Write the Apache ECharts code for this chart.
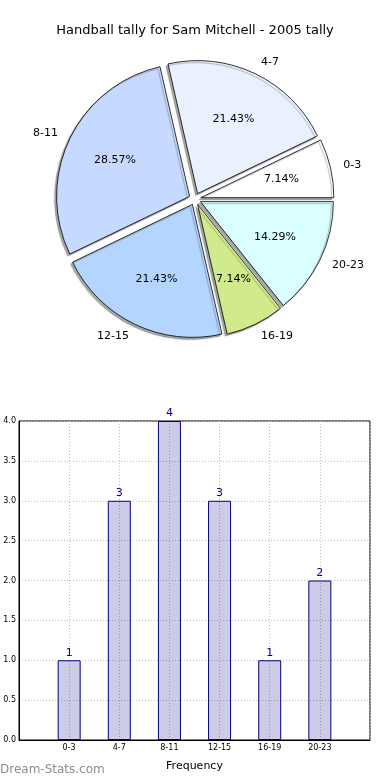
<!DOCTYPE html>
<html>
<head>
<meta charset="utf-8">
<script src="https://cdn.jsdelivr.net/npm/echarts@6/dist/echarts.min.js"></script>
<style>html,body{margin:0;padding:0;background:#fff;}#c{width:390px;height:780px;}</style>
</head>
<body>
<div id="c"></div>
<script>
const titleText = 'Handball tally for Sam Mitchell - 2005 tally';
const categories = ['0-3', '4-7', '8-11', '12-15', '16-19', '20-23'];
const counts = [1, 3, 4, 3, 1, 2];
const sliceColors = ['#ffffff', '#e9f1ff', '#c6d9ff', '#b4d5ff', '#d0ea8c', '#daffff'];
const xAxisName = 'Frequency';
const watermark = 'Dream-Stats.com';

const FONT = 'DejaVu Sans';
const R = 133;
const CENTER = [195, 199];
const EXPLODE = 6;

const pieData = categories.map((c, i) => ({
  name: c, value: counts[i], selected: true,
  itemStyle: { color: sliceColors[i] }
}));
const pctData = categories.map((c, i) => ({ name: c, value: counts[i], selected: true }));

const chart = echarts.init(document.getElementById('c'), null, { renderer: 'canvas' });
chart.setOption({
  animation: false,
  textStyle: { fontFamily: FONT },
  title: {
    text: titleText, left: 'center', top: 19,
    textStyle: { fontFamily: FONT, fontSize: 13, fontWeight: 'normal', color: '#000' }
  },
  graphic: [{
    type: 'text', left: 0, top: 764,
    style: { text: watermark, fontFamily: FONT, fontSize: 12, fill: '#8c8c8c' }
  }],
  grid: {
    left: 19, top: 421, width: 351, height: 319,
    show: true, borderColor: '#000', borderWidth: 1, backgroundColor: 'transparent'
  },
  xAxis: {
    type: 'value', min: -1, max: 6, interval: 1,
    name: xAxisName, nameLocation: 'middle', nameGap: 21,
    nameTextStyle: { fontFamily: FONT, fontSize: 11, color: '#000' },
    axisLine: { show: true, onZero: false, lineStyle: { color: '#000', width: 1 } },
    axisTick: { show: false },
    axisLabel: {
      fontFamily: FONT, fontSize: 8, color: '#000', margin: 4,
      formatter: v => (categories[v] !== undefined ? categories[v] : ''),
      showMinLabel: false, showMaxLabel: false
    },
    splitLine: { show: true, lineStyle: { color: '#bdbdbd', type: [1, 2], width: 1 } }
  },
  yAxis: {
    type: 'value', min: 0, max: 4, interval: 0.5,
    axisLine: { show: true, onZero: false, lineStyle: { color: '#000', width: 1 } },
    axisTick: { show: false },
    axisLabel: { fontFamily: FONT, fontSize: 8, color: '#000', margin: 3, formatter: v => v.toFixed(1) },
    splitLine: { show: true, lineStyle: { color: '#bdbdbd', type: [1, 2], width: 1 } }
  },
  series: [
    {
      type: 'pie',
      center: CENTER, radius: [0, R],
      startAngle: 0, clockwise: false,
      selectedMode: 'multiple', selectedOffset: EXPLODE,
      avoidLabelOverlap: false,
      data: pieData,
      itemStyle: {
        borderColor: '#000', borderWidth: 0.8,
        shadowColor: 'rgba(0,0,0,0.35)', shadowBlur: 1, shadowOffsetX: -2, shadowOffsetY: 2
      },
      label: {
        show: true, position: 'outside', formatter: '{b}',
        fontFamily: FONT, fontSize: 11, color: '#000', distanceToLabelLine: 0
      },
      labelLine: { show: false, length: 13, length2: 0 },
      emphasis: { disabled: true },
      z: 2
    },
    {
      type: 'pie',
      center: CENTER, radius: [0, R * 1.2],
      startAngle: 0, clockwise: false,
      selectedMode: 'multiple', selectedOffset: EXPLODE,
      avoidLabelOverlap: false,
      silent: true,
      data: pctData,
      itemStyle: { color: 'rgba(0,0,0,0)', borderWidth: 0 },
      label: {
        show: true, position: 'inner',
        formatter: p => p.percent.toFixed(2) + '%',
        fontFamily: FONT, fontSize: 11, color: '#000'
      },
      labelLine: { show: false },
      emphasis: { disabled: true },
      z: 3
    },
    {
      type: 'bar',
      data: counts.map((v, i) => [i, v]),
      barWidth: 23,
      itemStyle: { color: 'rgba(0,0,128,0.2)', borderColor: '#000080', borderWidth: 1 },
      label: { show: true, position: 'top', distance: 2, fontFamily: FONT, fontSize: 11, color: '#00008b' },
      emphasis: { disabled: true }
    }
  ]
});
</script>
</body>
</html>
